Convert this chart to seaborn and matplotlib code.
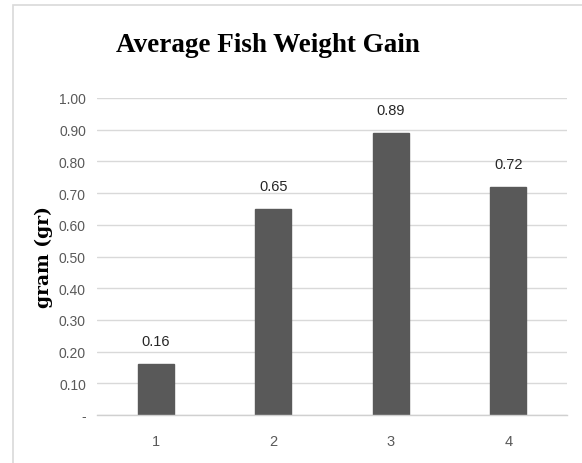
import matplotlib
matplotlib.use("Agg")
import matplotlib.pyplot as plt
import seaborn as sns
import pandas as pd
from matplotlib.patches import Rectangle
from matplotlib.ticker import FixedLocator

categories = ["1", "2", "3", "4"]
weight_gain = [0.16, 0.65, 0.89, 0.72]
y_ticks = [0.0, 0.1, 0.2, 0.3, 0.4, 0.5, 0.6, 0.7, 0.8, 0.9, 1.0]
y_tick_labels = ["-", "0.10", "0.20", "0.30", "0.40", "0.50", "0.60", "0.70", "0.80", "0.90", "1.00"]
title = "Average Fish Weight Gain"
y_label = "gram (gr)"

sns.set_theme(style="white")
sans = ["Liberation Sans Narrow", "Liberation Sans", "DejaVu Sans"]
serif = ["Liberation Serif", "DejaVu Serif"]
wide_serif = ["DejaVu Serif"]

df = pd.DataFrame({"group": categories, "gain": weight_gain})

fig = plt.figure(figsize=(5.82, 4.64), dpi=100)
fig.patch.set_facecolor("white")
# chart-area frame
fig.patches.append(Rectangle((13 / 582, -0.05), 1.0, 1 - 6 / 464 + 0.05,
                             transform=fig.transFigure, fill=False,
                             edgecolor="#d9d9d9", linewidth=1.2))

ax = fig.add_axes([97 / 582, 1 - 416 / 464, (567 - 97) / 582, (416 - 99) / 464])
sns.barplot(data=df, x="group", y="gain", color="#595959", saturation=1,
            width=0.31, ax=ax, edgecolor="#595959")

ax.set_xlim(-0.5, 3.5)
ax.set_ylim(0, 1.0)
ax.set_yticks(y_ticks)
ax.set_yticklabels(y_tick_labels, family=sans, fontsize=10, color="#595959")
ax.set_xticks(range(len(categories)))
ax.set_xticklabels(categories, family=sans, fontsize=10.5, color="#595959")
ax.xaxis.set_minor_locator(FixedLocator([-0.5, 0.5, 1.5, 2.5, 3.5]))
ax.tick_params(axis="x", which="major", length=0, pad=14)
ax.tick_params(axis="x", which="minor", length=6, width=1, color="#d0d0d0")
ax.tick_params(axis="y", length=0, pad=8)

ax.grid(axis="y", color="#d9d9d9", linewidth=1)
ax.set_axisbelow(True)
for side in ["top", "right", "left"]:
    ax.spines[side].set_visible(False)
ax.spines["bottom"].set_color("#d0d0d0")
ax.spines["bottom"].set_linewidth(1)

for i, v in enumerate(weight_gain):
    ax.annotate(f"{v:.2f}", xy=(i, v), xytext=(0, 16.5), textcoords="offset points",
                ha="center", va="center", family=sans, fontsize=10.5, color="#262626")

ax.set_xlabel("")
ax.set_ylabel(y_label, family=wide_serif, fontweight="bold", fontsize=13.5, color="black")
ax.yaxis.set_label_coords((44 - 97) / 470, 0.5)
ax.yaxis.label.set_va("center")

fig.text(268 / 582, 1 - 46 / 464, title, ha="center", va="center",
         family=serif, fontweight="bold", fontsize=19.5, color="black")

fig.savefig("out.png", dpi=100)
